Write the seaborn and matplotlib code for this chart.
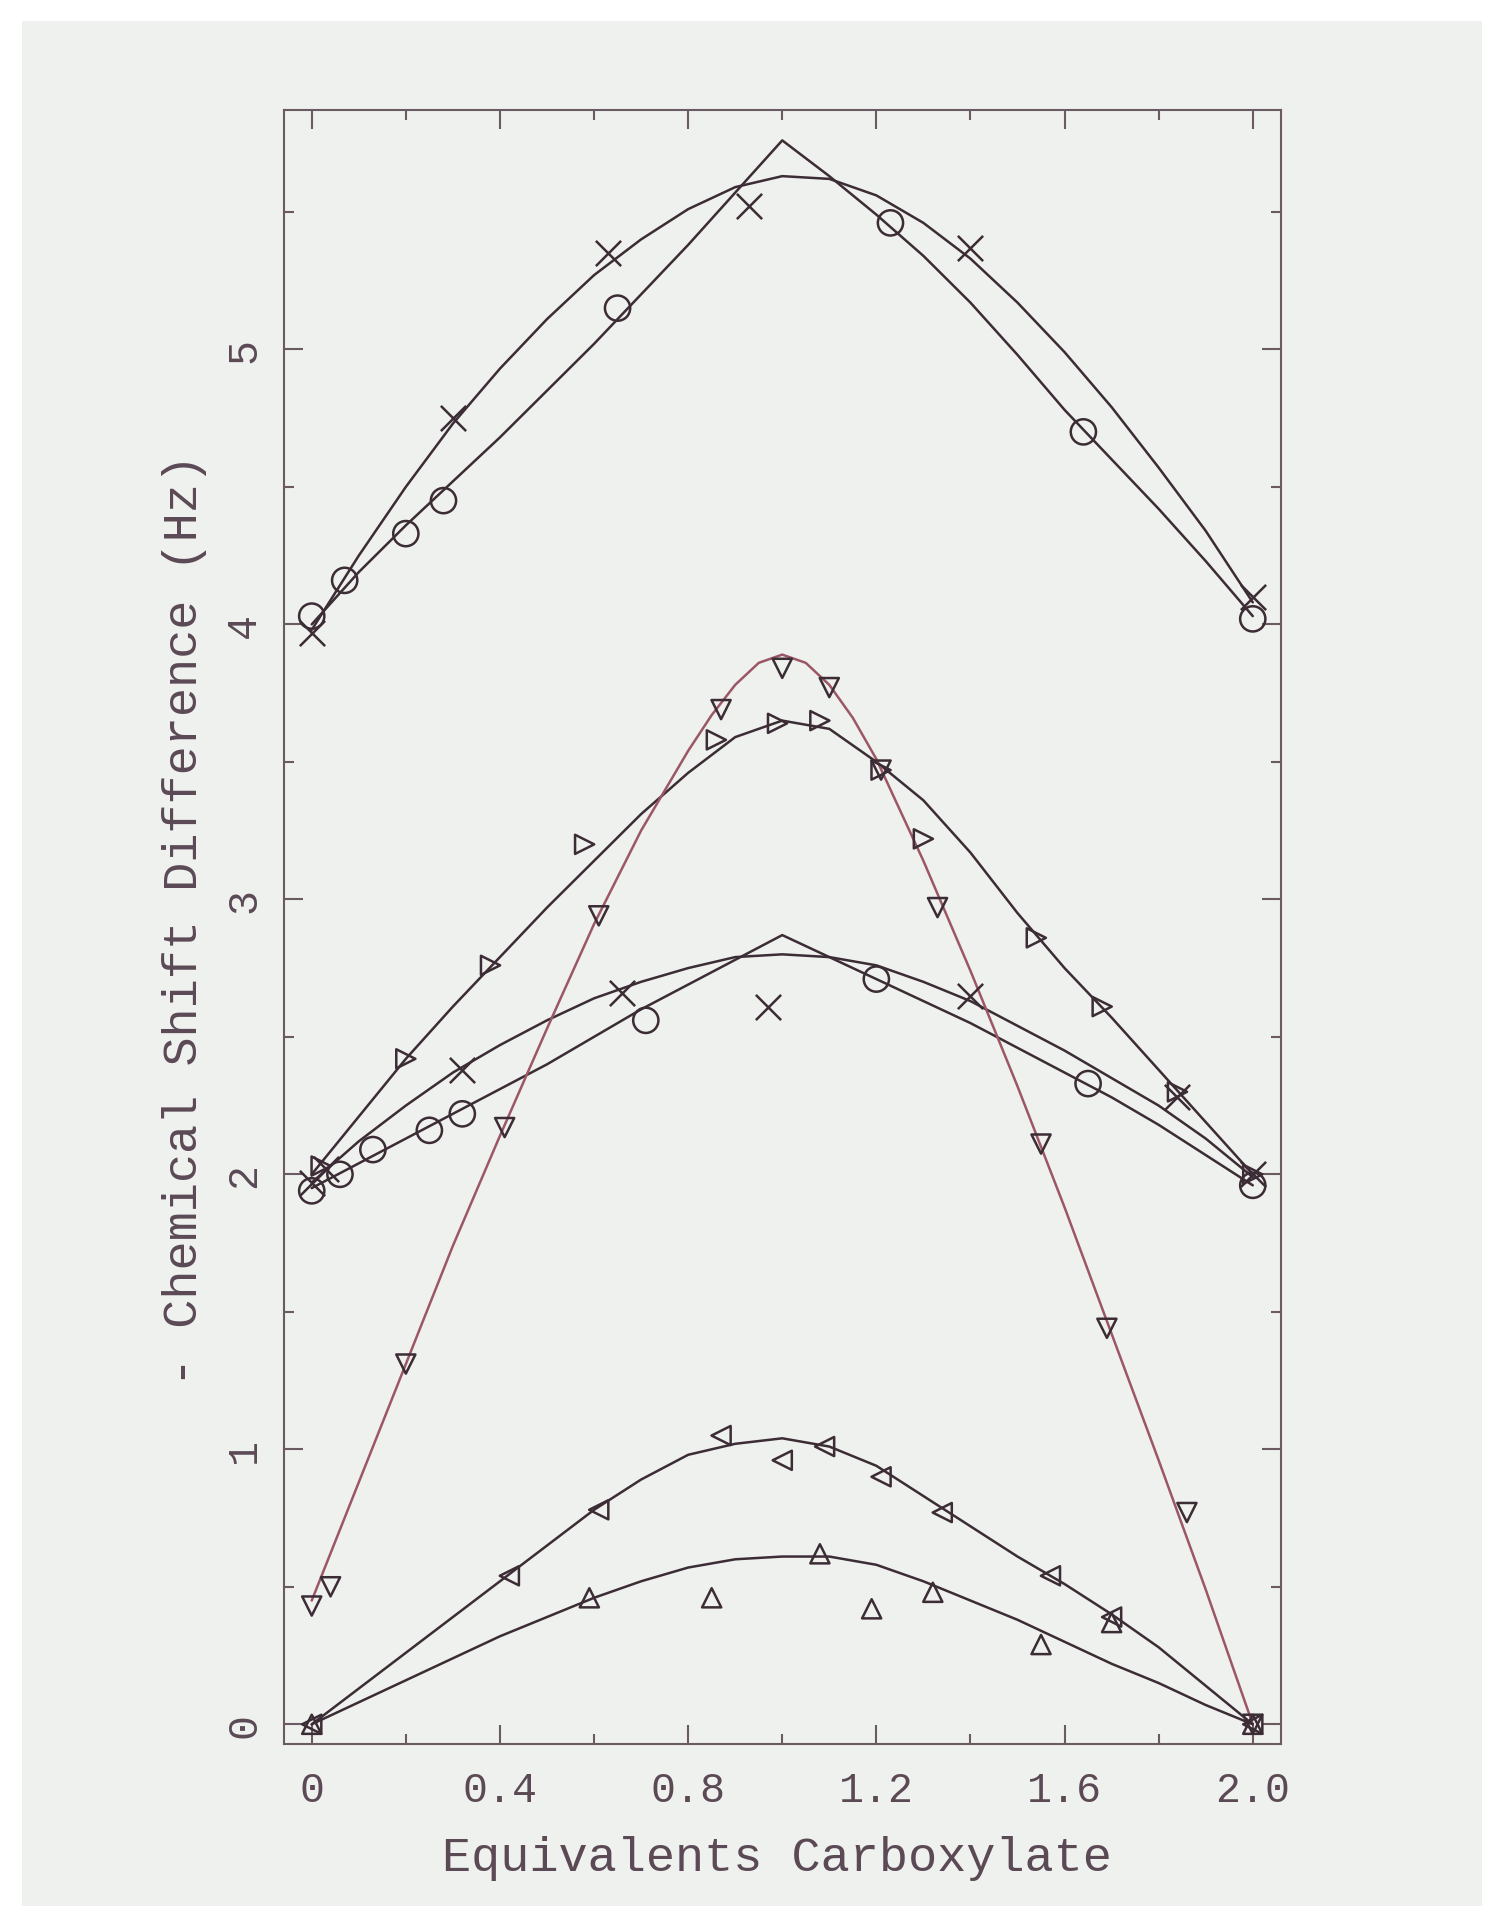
import matplotlib
matplotlib.use('Agg')
import matplotlib.pyplot as plt
import pandas as pd
import seaborn as sns
from matplotlib.patches import Rectangle
from matplotlib.ticker import MultipleLocator

# sample positions of the fitted curves (equivalents carboxylate)
curve_x = [0.0, 0.1, 0.2, 0.3, 0.4, 0.5, 0.6, 0.7, 0.8, 0.9, 1.0,
           1.1, 1.2, 1.3, 1.4, 1.5, 1.6, 1.7, 1.8, 1.9, 2.0]

# top set (offset 4 Hz)
top_circle_x = [0.0, 0.07, 0.20, 0.28, 0.65, 1.23, 1.64, 2.0]
top_circle_y = [4.03, 4.16, 4.33, 4.45, 5.15, 5.46, 4.70, 4.02]
top_circle_fit = [4.00, 4.19, 4.36, 4.52, 4.68, 4.85, 5.02, 5.20, 5.38, 5.57, 5.76,
                  5.63, 5.49, 5.34, 5.17, 4.98, 4.78, 4.60, 4.42, 4.23, 4.03]
top_cross_x = [0.0, 0.30, 0.63, 0.93, 1.40, 2.0]
top_cross_y = [3.97, 4.75, 5.35, 5.52, 5.37, 4.10]
top_cross_fit = [3.98, 4.25, 4.50, 4.73, 4.93, 5.11, 5.27, 5.40, 5.51, 5.59, 5.63,
                 5.62, 5.56, 5.46, 5.33, 5.17, 4.99, 4.79, 4.57, 4.34, 4.08]

# middle set (offset 2 Hz)
mid_circle_x = [0.0, 0.06, 0.13, 0.25, 0.32, 0.71, 1.20, 1.65, 2.0]
mid_circle_y = [1.94, 2.00, 2.09, 2.16, 2.22, 2.56, 2.71, 2.33, 1.96]
mid_circle_fit = [1.95, 2.04, 2.13, 2.22, 2.31, 2.40, 2.50, 2.60, 2.69, 2.78, 2.87,
                  2.79, 2.71, 2.63, 2.55, 2.46, 2.37, 2.28, 2.18, 2.07, 1.96]
mid_cross_x = [0.0, 0.03, 0.32, 0.66, 0.97, 1.40, 1.84, 2.0]
mid_cross_y = [1.97, 2.02, 2.38, 2.66, 2.61, 2.65, 2.28, 2.00]
mid_cross_fit = [1.97, 2.12, 2.25, 2.37, 2.47, 2.56, 2.64, 2.70, 2.75, 2.79, 2.80,
                 2.79, 2.76, 2.70, 2.63, 2.54, 2.45, 2.35, 2.25, 2.13, 1.99]

right_tri_x = [0.02, 0.20, 0.38, 0.58, 0.86, 0.99, 1.08, 1.21, 1.30, 1.54, 1.68, 1.84, 2.0]
right_tri_y = [2.03, 2.42, 2.76, 3.20, 3.58, 3.64, 3.65, 3.47, 3.22, 2.86, 2.61, 2.30, 2.00]
right_tri_fit = [2.00, 2.21, 2.42, 2.61, 2.79, 2.97, 3.14, 3.31, 3.46, 3.59, 3.65,
                 3.62, 3.50, 3.36, 3.17, 2.95, 2.75, 2.57, 2.38, 2.19, 2.00]

down_tri_x = [0.0, 0.04, 0.20, 0.41, 0.61, 0.87, 1.00, 1.10, 1.21, 1.33, 1.55, 1.69, 1.86, 2.0]
down_tri_y = [0.43, 0.50, 1.31, 2.17, 2.94, 3.69, 3.84, 3.77, 3.47, 2.97, 2.11, 1.44, 0.77, 0.0]
down_fit_x = [0.0, 0.1, 0.2, 0.3, 0.4, 0.5, 0.6, 0.7, 0.8, 0.85, 0.9, 0.95, 1.0,
              1.05, 1.1, 1.15, 1.2, 1.3, 1.4, 1.5, 1.6, 1.7, 1.8, 1.9, 2.0]
down_fit_y = [0.45, 0.88, 1.31, 1.74, 2.14, 2.53, 2.91, 3.25, 3.54, 3.67, 3.78, 3.86, 3.89,
              3.86, 3.78, 3.66, 3.51, 3.14, 2.74, 2.32, 1.88, 1.42, 0.96, 0.49, 0.0]

# bottom set (offset 0 Hz)
left_tri_x = [0.0, 0.42, 0.61, 0.87, 1.00, 1.09, 1.21, 1.34, 1.57, 1.70, 2.0]
left_tri_y = [0.0, 0.54, 0.78, 1.05, 0.96, 1.01, 0.90, 0.77, 0.54, 0.39, 0.0]
left_tri_fit = [0.0, 0.13, 0.26, 0.39, 0.52, 0.65, 0.78, 0.89, 0.98, 1.02, 1.04,
                1.01, 0.94, 0.83, 0.72, 0.61, 0.51, 0.40, 0.28, 0.14, 0.0]
up_tri_x = [0.0, 0.59, 0.85, 1.08, 1.19, 1.32, 1.55, 1.70, 2.0]
up_tri_y = [0.0, 0.46, 0.46, 0.62, 0.42, 0.48, 0.29, 0.37, 0.0]
up_tri_fit = [0.0, 0.08, 0.16, 0.24, 0.32, 0.39, 0.46, 0.52, 0.57, 0.60, 0.61,
              0.61, 0.58, 0.52, 0.45, 0.38, 0.30, 0.22, 0.15, 0.07, 0.0]

x_ticks = [0.0, 0.4, 0.8, 1.2, 1.6, 2.0]
x_tick_labels = ['0', '0.4', '0.8', '1.2', '1.6', '2.0']
y_ticks = [0, 1, 2, 3, 4, 5]
y_tick_labels = ['0', '1', '2', '3', '4', '5']

paper = '#eef1ed'
ink = '#3c2c35'
pink = '#9c5766'
text_col = '#5b4a55'

sns.set_style('ticks')
plt.rcParams['font.family'] = ['Liberation Mono', 'DejaVu Sans Mono']

fig = plt.figure(figsize=(15, 19.33), dpi=100, facecolor='white')
# scanned page area with a white margin around it
fig.patches.append(Rectangle((0.0147, 0.0135), 0.973, 0.975, transform=fig.transFigure,
                             facecolor=paper, edgecolor='none', zorder=-10))
ax = fig.add_axes([0.189, 0.0975, 0.665, 0.845])
ax.set_facecolor(paper)

fits = [
    (curve_x, top_circle_fit, ink),
    (curve_x, top_cross_fit, ink),
    (curve_x, mid_circle_fit, ink),
    (curve_x, mid_cross_fit, ink),
    (curve_x, right_tri_fit, ink),
    (down_fit_x, down_fit_y, pink),
    (curve_x, left_tri_fit, ink),
    (curve_x, up_tri_fit, ink),
]
for fx, fy, col in fits:
    sns.lineplot(x=fx, y=fy, ax=ax, color=col, linewidth=1.8, sort=False)

points = [
    (top_circle_x, top_circle_y, 'o', 330),
    (mid_circle_x, mid_circle_y, 'o', 330),
    (top_cross_x, top_cross_y, 'x', 330),
    (mid_cross_x, mid_cross_y, 'x', 330),
    (right_tri_x, right_tri_y, '>', 190),
    (down_tri_x, down_tri_y, 'v', 190),
    (left_tri_x, left_tri_y, '<', 190),
    (up_tri_x, up_tri_y, '^', 190),
]
for px, py, mk, size in points:
    df = pd.DataFrame({'x': px, 'y': py})
    if mk == 'x':
        sns.scatterplot(data=df, x='x', y='y', marker=mk, s=size, color=ink,
                        linewidth=1.8, ax=ax, zorder=3)
    else:
        sns.scatterplot(data=df, x='x', y='y', marker=mk, s=size, facecolor='none',
                        edgecolor=ink, linewidth=1.8, ax=ax, zorder=3)

ax.set_xlim(-0.06, 2.06)
ax.set_ylim(-0.07, 5.87)
ax.set_xticks(x_ticks)
ax.set_xticklabels(x_tick_labels)
ax.set_yticks(y_ticks)
ax.set_yticklabels(y_tick_labels, rotation=90, va='center')
ax.xaxis.set_minor_locator(MultipleLocator(0.2))
ax.yaxis.set_minor_locator(MultipleLocator(0.5))
ax.tick_params(which='both', direction='in', top=True, right=True,
               color='#6b5a62', width=1.5, labelcolor=text_col)
ax.tick_params(which='major', length=14)
ax.tick_params(which='minor', length=7)
ax.tick_params(axis='x', which='major', labelsize=30, pad=19)
ax.tick_params(axis='y', which='major', labelsize=30, pad=14)
for sp in ax.spines.values():
    sp.set_color('#6b5a62')
    sp.set_linewidth(1.5)

ax.set_xlabel('Equivalents Carboxylate', fontsize=35, color=text_col)
ax.xaxis.set_label_coords(0.495, -0.056)
ax.set_ylabel('- Chemical Shift Difference (Hz)', fontsize=35, color=text_col, va='center')
ax.yaxis.set_label_coords(-0.099, 0.505)

fig.savefig('out.png', dpi=100, facecolor='white')
